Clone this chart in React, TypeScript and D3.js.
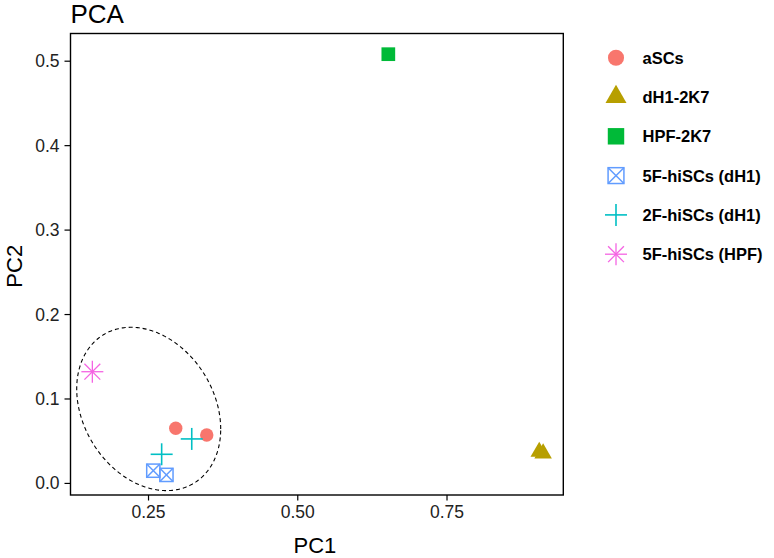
import React from "react";
import * as d3 from "d3";

const groups = ["aSCs", "dH1-2K7", "HPF-2K7", "5F-hiSCs (dH1)", "2F-hiSCs (dH1)", "5F-hiSCs (HPF)"];
const groupColors = ["#F8766D", "#B79F00", "#00BA38", "#619CFF", "#00BFC4", "#F564E3"];
const groupShapes = ["circle", "triangle", "square", "boxtimes", "plus", "asterisk"];

const pointGroup = [0, 0, 1, 1, 2, 3, 3, 4, 4, 5];
const pc1 = [0.2956, 0.3475, 0.9045, 0.911, 0.6517, 0.258, 0.28, 0.272, 0.3224, 0.1559];
const pc2 = [0.0653, 0.0574, 0.0375, 0.0355, 0.5083, 0.0151, 0.0101, 0.0345, 0.0527, 0.1323];

const xTicks = [0.25, 0.5, 0.75];
const yTicks = [0.0, 0.1, 0.2, 0.3, 0.4, 0.5];

// confidence ellipse (data units): centre, half-extents, correlation
const ellipseCenter = [0.2503, 0.0882];
const ellipseHalf = [0.1206, 0.0967];
const ellipseCorr = -0.2465;

const W = 774;
const H = 558;
const margin = { left: 70.5, right: 563.3, top: 33.5, bottom: 495 };
const FONT = "'Liberation Sans', Arial, sans-serif";

function Symbol({ shape, x, y, color, big }: { shape: string; x: number; y: number; color: string; big?: boolean }) {
  const k = big ? 1.2 : 1;
  switch (shape) {
    case "circle":
      return <circle cx={x} cy={y} r={6.7 * k} fill={color} />;
    case "triangle": {
      const xc = 6.5 * k;
      const pts = [
        [x, y - 1.555 * xc],
        [x + 1.347 * xc, y + 0.778 * xc],
        [x - 1.347 * xc, y + 0.778 * xc],
      ];
      return <polygon points={pts.map((p) => p.join(",")).join(" ")} fill={color} />;
    }
    case "square": {
      const s = 13.7 * k;
      return <rect x={x - s / 2} y={y - s / 2} width={s} height={s} fill={color} />;
    }
    case "boxtimes": {
      const s = 13.2 * k;
      const h = s / 2;
      return (
        <g stroke={color} strokeWidth={1.5} fill="none">
          <rect x={x - h} y={y - h} width={s} height={s} />
          <line x1={x - h} y1={y - h} x2={x + h} y2={y + h} />
          <line x1={x - h} y1={y + h} x2={x + h} y2={y - h} />
        </g>
      );
    }
    case "plus": {
      const h = 11;
      return (
        <g stroke={color} strokeWidth={1.6}>
          <line x1={x - h} y1={y} x2={x + h} y2={y} />
          <line x1={x} y1={y - h} x2={x} y2={y + h} />
        </g>
      );
    }
    case "asterisk": {
      const h = 11;
      const d = h * 0.72;
      return (
        <g stroke={color} strokeWidth={1.3}>
          <line x1={x - h} y1={y} x2={x + h} y2={y} />
          <line x1={x} y1={y - h} x2={x} y2={y + h} />
          <line x1={x - d} y1={y - d} x2={x + d} y2={y + d} />
          <line x1={x - d} y1={y + d} x2={x + d} y2={y - d} />
        </g>
      );
    }
  }
  return null;
}

export default function App() {
  const x = d3.scaleLinear().domain([0.1193, 0.9448]).range([margin.left, margin.right]);
  const y = d3.scaleLinear().domain([-0.0137, 0.5328]).range([margin.bottom, margin.top]);

  const ts = d3.range(0, 361).map((d) => (d * Math.PI) / 180);
  const ellipsePts: [number, number][] = ts.map((t) => [
    ellipseCenter[0] + ellipseHalf[0] * Math.cos(t),
    ellipseCenter[1] + ellipseHalf[1] * (ellipseCorr * Math.cos(t) + Math.sqrt(1 - ellipseCorr * ellipseCorr) * Math.sin(t)),
  ]);
  const line = d3
    .line<[number, number]>()
    .x((d) => x(d[0]))
    .y((d) => y(d[1]));

  const fx = d3.format(".2f");
  const fy = d3.format(".1f");

  const legendX = 616;
  const legendY0 = 57.7;
  const legendStep = 39.3;

  return (
    <svg width={W} height={H} style={{ position: "absolute", left: 0, top: 0, background: "#fff" }} fontFamily={FONT}>
      <rect x={0} y={0} width={W} height={H} fill="#fff" />
      <text x={70.5} y={22.5} fontSize={26} fill="#000">PCA</text>

      <path d={line(ellipsePts) || ""} fill="none" stroke="#000" strokeWidth={1.1} strokeDasharray="4,3" />

      {pc1.map((v, i) => (
        <Symbol key={i} shape={groupShapes[pointGroup[i]]} color={groupColors[pointGroup[i]]} x={x(v)} y={y(pc2[i])} />
      ))}

      <rect x={margin.left} y={margin.top} width={margin.right - margin.left} height={margin.bottom - margin.top} fill="none" stroke="#000" strokeWidth={1.4} />

      {xTicks.map((t) => (
        <g key={t}>
          <line x1={x(t)} x2={x(t)} y1={margin.bottom} y2={margin.bottom + 5.5} stroke="#000" strokeWidth={1.2} />
          <text x={x(t)} y={margin.bottom + 23} fontSize={17.5} textAnchor="middle" fill="#222">{fx(t)}</text>
        </g>
      ))}
      {yTicks.map((t) => (
        <g key={t}>
          <line x1={margin.left - 6} x2={margin.left} y1={y(t)} y2={y(t)} stroke="#000" strokeWidth={1.2} />
          <text x={margin.left - 11} y={y(t) + 6} fontSize={17.5} textAnchor="end" fill="#222">{fy(t)}</text>
        </g>
      ))}

      <text x={(margin.left + margin.right) / 2 - 2} y={553} fontSize={22} textAnchor="middle" fill="#000">PC1</text>
      <text transform={`translate(22,${(margin.top + margin.bottom) / 2 + 2}) rotate(-90)`} fontSize={22} textAnchor="middle" fill="#000">PC2</text>

      {groups.map((g, i) => (
        <g key={g}>
          <Symbol shape={groupShapes[i]} color={groupColors[i]} x={legendX} y={legendY0 + i * legendStep} big />
          <text x={642.5} y={legendY0 + i * legendStep + 6} fontSize={16.5} fontWeight="bold" fill="#000">{g}</text>
        </g>
      ))}
    </svg>
  );
}
